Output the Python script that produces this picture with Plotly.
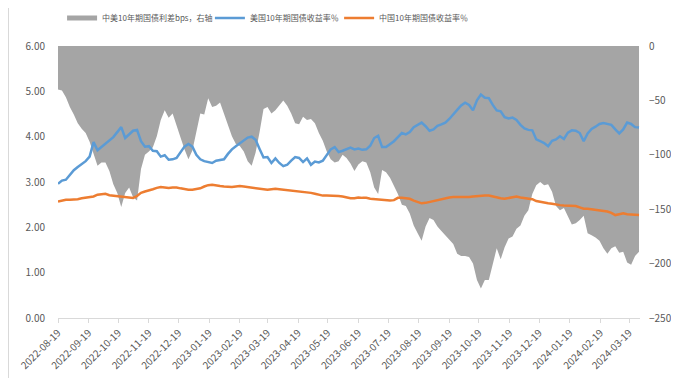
import pandas as pd
import plotly.graph_objects as go

# sampling dates (every 4 calendar days, 2022-08-19 .. 2024-03-29)
dates = pd.date_range("2022-08-19", "2024-03-29", freq="4D")

us_10y = [
    2.96, 3.03, 3.05, 3.15, 3.26, 3.33, 3.39, 3.46, 3.56, 3.88,
    3.70, 3.77, 3.85, 3.92, 3.99, 4.10, 4.21, 3.97, 4.05, 4.13,
    4.15, 3.90, 3.78, 3.79, 3.69, 3.68, 3.56, 3.59, 3.49, 3.50,
    3.53, 3.67, 3.78, 3.84, 3.78, 3.60, 3.50, 3.46, 3.44, 3.42,
    3.47, 3.49, 3.50, 3.62, 3.72, 3.79, 3.86, 3.92, 3.98, 4.00,
    3.93, 3.73, 3.54, 3.55, 3.42, 3.52, 3.42, 3.35, 3.38, 3.47,
    3.55, 3.53, 3.44, 3.52, 3.38, 3.45, 3.43, 3.47, 3.60, 3.72,
    3.77, 3.66, 3.69, 3.72, 3.76, 3.72, 3.74, 3.71, 3.72, 3.80,
    3.97, 4.02, 3.77, 3.77, 3.83, 3.90, 3.99, 4.08, 4.05, 4.10,
    4.21, 4.27, 4.31, 4.23, 4.13, 4.16, 4.24, 4.27, 4.31, 4.39,
    4.48, 4.59, 4.69, 4.75, 4.70, 4.58, 4.80, 4.93, 4.86, 4.85,
    4.70, 4.58, 4.56, 4.43, 4.40, 4.42, 4.37, 4.26, 4.18, 4.15,
    4.14, 3.94, 3.90, 3.86, 3.79, 3.91, 3.94, 4.01, 3.95, 4.09,
    4.14, 4.13, 4.08, 3.90, 4.07, 4.17, 4.22, 4.28, 4.30, 4.28,
    4.26, 4.16, 4.07, 4.16, 4.31, 4.28, 4.21, 4.20,
]

cn_10y = [
    2.57, 2.59, 2.61, 2.61, 2.61, 2.62, 2.64, 2.65, 2.66, 2.68,
    2.72, 2.73, 2.74, 2.71, 2.70, 2.70, 2.69, 2.68, 2.66, 2.65,
    2.69, 2.76, 2.79, 2.81, 2.84, 2.87, 2.89, 2.88, 2.87, 2.88,
    2.88, 2.86, 2.84, 2.83, 2.83, 2.84, 2.86, 2.90, 2.93, 2.94,
    2.92, 2.91, 2.90, 2.89, 2.89, 2.90, 2.91, 2.90, 2.89, 2.88,
    2.87, 2.86, 2.84, 2.83, 2.84, 2.85, 2.84, 2.83, 2.82, 2.81,
    2.80, 2.80, 2.79, 2.77, 2.76, 2.74, 2.72, 2.70, 2.70, 2.70,
    2.70, 2.69, 2.68, 2.66, 2.64, 2.64, 2.66, 2.65, 2.65, 2.63,
    2.62, 2.61, 2.61, 2.60, 2.59, 2.60, 2.65, 2.65, 2.64, 2.63,
    2.59, 2.56, 2.53, 2.54, 2.56, 2.58, 2.61, 2.63, 2.64, 2.66,
    2.67, 2.67, 2.66, 2.66, 2.67, 2.68, 2.69, 2.70, 2.70, 2.70,
    2.68, 2.65, 2.64, 2.63, 2.65, 2.66, 2.68, 2.66, 2.65, 2.63,
    2.62, 2.58, 2.56, 2.55, 2.53, 2.52, 2.50, 2.49, 2.48, 2.48,
    2.48, 2.47, 2.44, 2.41, 2.41, 2.40, 2.39, 2.38, 2.37, 2.35,
    2.32, 2.27, 2.29, 2.31, 2.29, 2.28, 2.28, 2.27,
]

spread_bps = [
    -40, -41, -47, -56, -63, -71, -76, -80, -88, -98,
    -110, -107, -107, -115, -127, -135, -148, -135, -130, -139,
    -142, -113, -100, -97, -93, -83, -68, -59, -66, -62,
    -72, -84, -95, -104, -96, -79, -62, -63, -48, -56,
    -55, -52, -62, -71, -83, -90, -92, -97, -106, -110,
    -98, -79, -58, -56, -62, -59, -55, -50, -55, -62,
    -71, -72, -65, -68, -67, -71, -80, -87, -97, -104,
    -107, -106, -100, -103, -108, -115, -109, -106, -107, -116,
    -130, -136, -114, -116, -121, -129, -136, -146, -147, -154,
    -165, -172, -179, -166, -158, -160, -166, -170, -174, -177,
    -182, -191, -193, -193, -194, -200, -215, -223, -215, -215,
    -200, -186, -196, -185, -177, -175, -168, -165, -156, -151,
    -136, -128, -125, -128, -127, -134, -147, -151, -149, -157,
    -164, -163, -160, -156, -172, -174, -176, -179, -186, -191,
    -186, -184, -190, -189, -199, -201, -193, -189,
]

tick_dates = [
    "2022-08-19", "2022-09-19", "2022-10-19", "2022-11-19", "2022-12-19",
    "2023-01-19", "2023-02-19", "2023-03-19", "2023-04-19", "2023-05-19",
    "2023-06-19", "2023-07-19", "2023-08-19", "2023-09-19", "2023-10-19",
    "2023-11-19", "2023-12-19", "2024-01-19", "2024-02-19", "2024-03-19",
]

names = ["中美10年期国债利差bps，右轴", "美国10年期国债收益率％", "中国10年期国债收益率％"]

FONT = "Noto Sans CJK SC, Noto Sans, sans-serif"
TXT = "#595959"
GRAY = "#A5A5A5"

fig = go.Figure()
fig.add_trace(go.Scatter(
    x=dates, y=spread_bps, name=names[0], yaxis="y",
    mode="lines", line=dict(width=0, color=GRAY),
    fill="tozeroy", fillcolor=GRAY, showlegend=False,
))
# legend entry for the area (thick gray bar as in the original)
fig.add_trace(go.Scatter(
    x=[None], y=[None], name=names[0], yaxis="y", legend="legend",
    mode="lines", line=dict(width=5, color=GRAY),
))
fig.add_trace(go.Scatter(
    x=dates, y=us_10y, name=names[1], yaxis="y2", legend="legend2",
    mode="lines", line=dict(width=2.5, color="#5B9BD5"),
))
fig.add_trace(go.Scatter(
    x=dates, y=cn_10y, name=names[2], yaxis="y2", legend="legend3",
    mode="lines", line=dict(width=2.5, color="#ED7D31"),
))

def leg(x):
    return dict(orientation="h", x=x, xanchor="left",
                yref="container", y=0.973, yanchor="middle",
                font=dict(size=8, color=TXT), itemwidth=30,
                bgcolor="rgba(0,0,0,0)")

fig.update_layout(
    width=671, height=370,
    margin=dict(l=50, r=39, t=38, b=60, autoexpand=False),
    paper_bgcolor="white", plot_bgcolor="white",
    font=dict(family=FONT, size=10, color=TXT),
    showlegend=True,
    legend=leg(0.007),
    legend2=leg(0.261),
    legend3=leg(0.483),
    xaxis=dict(
        type="date", range=["2022-08-19", "2024-03-30"], automargin=False,
        tickvals=tick_dates, ticktext=tick_dates, tickangle=-45,
        showgrid=False, showline=True, linecolor="#D9D9D9", linewidth=1,
        ticks="outside", ticklen=4, tickcolor="#D9D9D9",
        tickfont=dict(size=10, color=TXT),
    ),
    yaxis=dict(
        side="right", range=[-250, 0], dtick=50, tick0=0, automargin=False,
        showgrid=False, zeroline=False, showline=False,
        tickfont=dict(size=10, color=TXT), ticklabelstandoff=8,
    ),
    yaxis2=dict(
        side="left", overlaying="y", range=[0, 6], dtick=1, tickformat=".2f",
        automargin=False,
        showgrid=False, zeroline=False, showline=False,
        tickfont=dict(size=10, color=TXT), ticklabelstandoff=12,
    ),
    shapes=[dict(type="line", xref="paper", yref="paper",
                 x0=-0.085, x1=-0.085, y0=-0.3, y1=1.2,
                 line=dict(color="#D9D9D9", width=1))],
)

fig.write_html("out.html")
